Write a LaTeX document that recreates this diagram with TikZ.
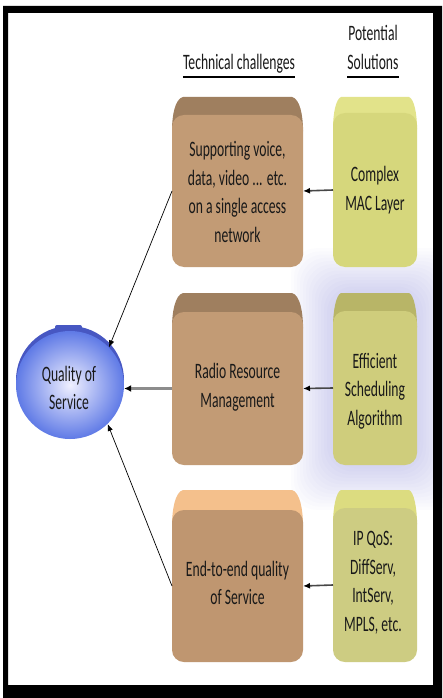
\documentclass[tikz,border=0pt]{standalone}
\usepackage{fontspec}
\newfontfamily\cf[FakeStretch=0.62]{Carlito}
\usetikzlibrary{arrows.meta}
\definecolor{brtopA}{HTML}{9F7F5F}
\definecolor{brtopC}{HTML}{F4C08C}
\definecolor{brfront}{HTML}{C29B75}
\definecolor{brfrontC}{HTML}{BF9670}
\definecolor{yeTopA}{HTML}{E2E38A}
\definecolor{yeFrontA}{HTML}{D6D77C}
\definecolor{yeTopB}{HTML}{B8B567}
\definecolor{yeFrontB}{HTML}{CFCD7C}
\definecolor{yeTopC}{HTML}{DCDC80}
\definecolor{yeFrontC}{HTML}{CDCC82}
\definecolor{qosOuter}{HTML}{5F7AE6}
\definecolor{qosRim}{HTML}{4757C2}
\definecolor{glowc}{HTML}{8484F0}
\definecolor{midline}{HTML}{8C8C8C}
\definecolor{sideline}{HTML}{474747}
% #1 L, #2 R, #3 T, #4 F, #5 B, #6 top colour, #7 front colour, #8 name, #9 inset
\newcommand\bevelbox[9]{%
  \fill[#6] ({#1+#9},{#3}) -- ({#2-#9},{#3})
     .. controls ({#2-3},{#3+2}) and ({#2},{#4}) .. ({#2},{#4+16})
     -- ({#1},{#4+16})
     .. controls ({#1},{#4}) and ({#1+3},{#3+2}) .. cycle;
  \node[fill=#7, rounded corners=12pt, minimum width={#2-#1}, minimum height={#5-#4},
        inner sep=0pt, outer sep=0pt, anchor=north west] (#8) at ({#1},{#4}) {};
}
\begin{document}
\begin{tikzpicture}[x=1pt,y=-1pt,
  txt/.style={font=\cf\fontsize{22}{28.5}\selectfont, text=black!90, align=center, inner sep=0pt},
  thinarr/.style={draw=black, line width=0.7pt, -{Latex[length=7pt,width=5.5pt]}},
  sidearr/.style={draw=sideline, line width=1.6pt, -{Latex[length=7pt,width=6pt,black]}},
  midarr/.style={draw=midline, line width=3pt, -{Latex[length=7pt,width=7pt,black]}}]
\useasboundingbox (0,0) rectangle (442,698);
\fill[white] (0,0) rectangle (442,698);

% glow behind middle solution box
\foreach \i in {1,...,14}
  \fill[glowc, opacity=0.022, rounded corners=26pt]
    ({333-3*\i},{293-3.2*\i}) rectangle ({417+3*\i},{465+3.2*\i});

% headings
\node[txt, anchor=base] (tc) at (239,70) {Technical challenges};
\draw[line width=1.4pt] ([yshift=-7pt]tc.base west) -- ([yshift=-7pt]tc.base east);
\node[txt, anchor=base] (ps1) at (373,41) {Potential};
\node[txt, anchor=base] (ps2) at (373,70) {Solutions};
\draw[line width=1.4pt] ([yshift=-7pt]ps2.base west) -- ([yshift=-7pt]ps2.base east);

% technical challenge boxes
\bevelbox{172}{303}{97}{115}{267}{brtopA}{brfront}{t1}{11}
\bevelbox{172}{303}{293}{312}{465}{brtopA}{brfront}{t2}{11}
\bevelbox{172}{303}{490}{510}{662}{brtopC}{brfrontC}{t3}{11}
% solution boxes
\bevelbox{333}{417}{97}{113}{267}{yeTopA}{yeFrontA}{s1}{8}
\bevelbox{333}{417}{293}{311}{465}{yeTopB}{yeFrontB}{s2}{8}
\bevelbox{333}{417}{490}{508}{662}{yeTopC}{yeFrontC}{s3}{8}

% texts
\node[txt] (t1txt) at (237.5,192) {Supporting voice,\\data, video ... etc.\\on a single access\\network};
\node[txt] (t2txt) at (237.5,387) {Radio Resource\\Management};
\node[txt] (t3txt) at (237.5,583) {End-to-end quality\\of Service};
\node[txt] (s1txt) at (375,190) {Complex\\MAC Layer};
\node[txt] (s2txt) at (375,391) {Efficient\\Scheduling\\Algorithm};
\node[txt] (s3txt) at (373,583) {IP QoS:\\DiffServ,\\IntServ,\\MPLS, etc.};

% quality of service circle
\fill[qosRim] (70,380) circle (54);
\fill[qosRim, rounded corners=2pt] (55,325) rectangle (82,333);
\node[circle, minimum size=108pt, inner sep=0pt, inner color=white!94!blue, outer color=qosOuter] (qos) at (70,385) {};
\node[txt] (qostxt) at (69,388) {Quality of\\Service};

% connectors
\draw[sidearr] (s1.west) -- (t1.east);
\draw[sidearr] (s2.west) -- (t2.east);
\draw[sidearr] (s3.west) -- (t3.east);
\draw[midarr] (t2.west) -- (t2.west -| qos.east);
\draw[thinarr] (t1.west) -- (qos.44);
\draw[thinarr] (t3.west) -- (qos.-46);

% frame
\fill[black, even odd rule] (3,6) rectangle (442,698) (8,13) rectangle (433,685);
\end{tikzpicture}
\end{document}
